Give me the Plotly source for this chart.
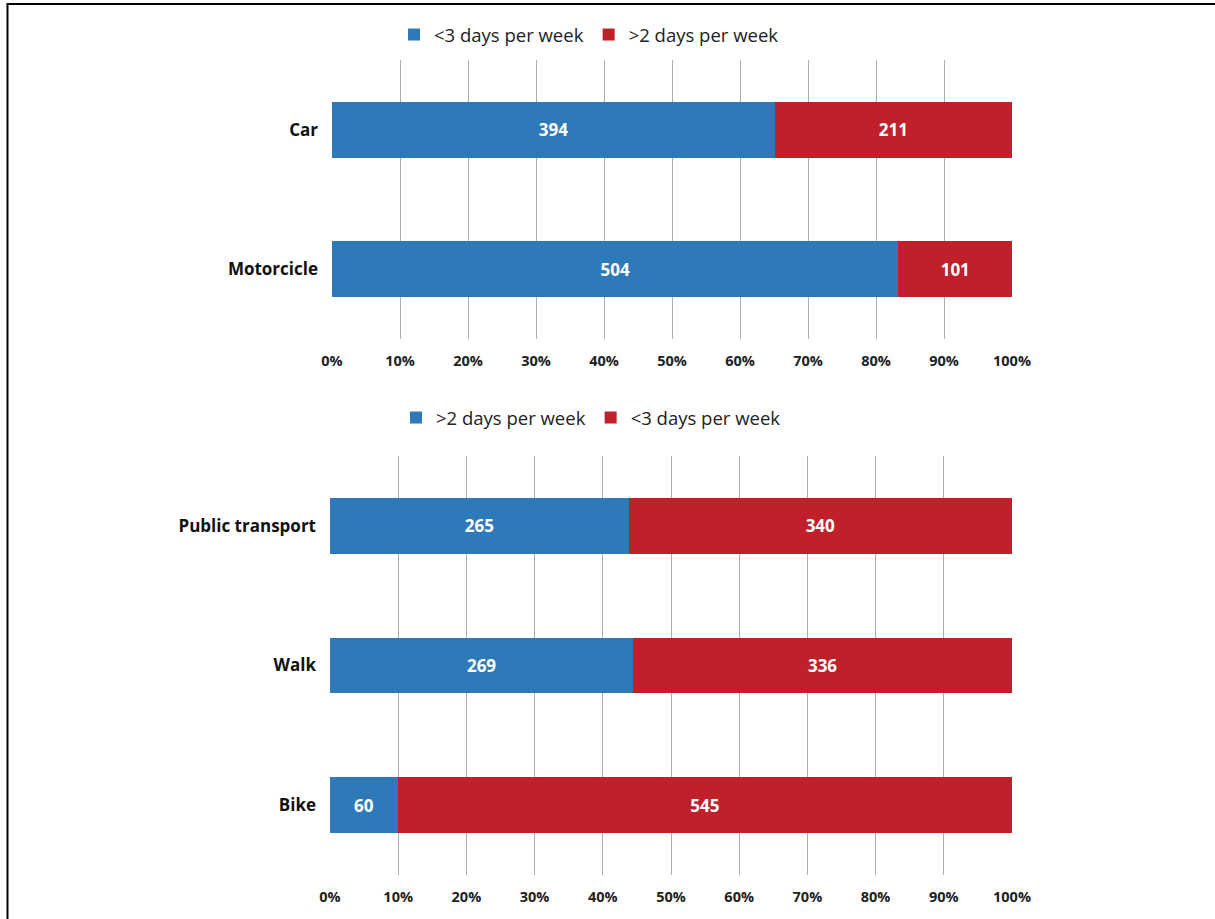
import plotly.graph_objects as go

# Commuting frequency by mode of transport (respondent counts)
motor_modes = ["Car", "Motorcicle"]
motor_lt3 = [394, 504]
motor_gt2 = [211, 101]

other_modes = ["Public transport", "Walk", "Bike"]
other_gt2 = [265, 269, 60]
other_lt3 = [340, 336, 545]

pct_ticks = [0, 10, 20, 30, 40, 50, 60, 70, 80, 90, 100]
pct_labels = [f"{t}%" for t in pct_ticks]

BLUE = "#2E7AB9"
RED = "#C0202A"
FONT = "Open Sans"
W, H = 1215, 919


def px_x(px):
    return px / W


def px_y(py):
    return 1 - py / H


fig = go.Figure()

bar_common = dict(
    orientation="h",
    width=0.4,
    textposition="inside",
    insidetextanchor="middle",
    texttemplate="%{text}",
    textfont=dict(family=FONT, size=17, color="white", weight="bold"),
    hoverinfo="skip",
    marker_line_width=0,
)

fig.add_trace(go.Bar(y=motor_modes, x=motor_lt3, text=motor_lt3, name="&lt;3 days per week",
                     marker_color=BLUE, xaxis="x", yaxis="y", legend="legend", **bar_common))
fig.add_trace(go.Bar(y=motor_modes, x=motor_gt2, text=motor_gt2, name="&gt;2 days per week",
                     marker_color=RED, xaxis="x", yaxis="y", legend="legend", **bar_common))
fig.add_trace(go.Bar(y=other_modes, x=other_gt2, text=other_gt2, name="&gt;2 days per week",
                     marker_color=BLUE, xaxis="x2", yaxis="y2", legend="legend2", **bar_common))
fig.add_trace(go.Bar(y=other_modes, x=other_lt3, text=other_lt3, name="&lt;3 days per week",
                     marker_color=RED, xaxis="x2", yaxis="y2", legend="legend2", **bar_common))

xaxis_common = dict(
    range=[0, 100],
    tickvals=pct_ticks,
    ticktext=pct_labels,
    showgrid=True,
    gridcolor="#adadad",
    gridwidth=1,
    zeroline=False,
    showline=False,
    ticks="",
    automargin=False,
    ticklabelstandoff=11,
    tickfont=dict(family=FONT, size=14.5, color="#222222", weight="bold"),
)
yaxis_common = dict(
    autorange="reversed",
    showgrid=False,
    zeroline=False,
    showline=False,
    ticks="",
    automargin=False,
    ticklabelstandoff=13,
    tickfont=dict(family=FONT, size=17, color="#111111", weight="bold"),
)

legend_common = dict(
    orientation="h",
    xanchor="center",
    yanchor="middle",
    font=dict(family=FONT, size=18.5, color="#222222"),
    bgcolor="rgba(0,0,0,0)",
    traceorder="normal",
    itemclick=False,
)

fig.update_layout(
    template="none",
    width=W,
    height=H,
    margin=dict(l=0, r=0, t=0, b=0, pad=0, autoexpand=False),
    paper_bgcolor="white",
    plot_bgcolor="white",
    barmode="stack",
    barnorm="percent",
    xaxis=dict(domain=[px_x(332), px_x(1012)], anchor="y", **xaxis_common),
    yaxis=dict(domain=[px_y(339), px_y(60)], anchor="x", **yaxis_common),
    xaxis2=dict(domain=[px_x(330), px_x(1012)], anchor="y2", **xaxis_common),
    yaxis2=dict(domain=[px_y(875), px_y(456)], anchor="x2", **yaxis_common),
    legend=dict(x=px_x(589), y=px_y(35), **legend_common),
    legend2=dict(x=px_x(591), y=px_y(418), **legend_common),
    shapes=[
        dict(type="line", xref="paper", yref="paper", x0=px_x(7.5), x1=px_x(7.5),
             y0=px_y(4), y1=0, line=dict(color="black", width=2)),
        dict(type="line", xref="paper", yref="paper", x0=px_x(6.5), x1=1,
             y0=px_y(4), y1=px_y(4), line=dict(color="black", width=2)),
    ],
)

# Page without body margin so the fixed-size figure fills the window exactly
fig.write_html(
    "out.html",
    post_script="document.body.style.margin='0';document.body.style.overflow='hidden';",
)
